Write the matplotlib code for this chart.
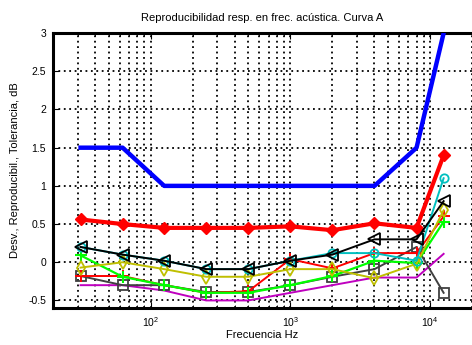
import matplotlib
matplotlib.use("Agg")
import matplotlib.pyplot as plt
from matplotlib.ticker import LogLocator, NullFormatter

plt.rcParams["font.family"] = ["Liberation Sans", "DejaVu Sans"]

freq = [31.5, 63, 125, 250, 500, 1000, 2000, 4000, 8000, 12500]

tolerancia = [1.5, 1.5, 1.0, 1.0, 1.0, 1.0, 1.0, 1.0, 1.5, 3.0]
reproducib = [0.56, 0.50, 0.45, 0.45, 0.45, 0.47, 0.42, 0.51, 0.45, 1.40]

desv_negro = [0.20, 0.10, 0.02, -0.09, -0.09, 0.02, 0.10, 0.30, 0.30, 0.80]
desv_cian = [0.20, 0.10, 0.02, -0.09, -0.09, 0.02, 0.12, 0.12, 0.02, 1.10]
desv_amarillo = [-0.07, 0.00, -0.09, -0.19, -0.19, -0.09, -0.09, -0.21, -0.02, 0.68]
desv_verde = [0.09, -0.19, -0.30, -0.40, -0.40, -0.30, -0.18, 0.02, -0.01, 0.53]
desv_rojo = [-0.18, -0.18, -0.30, -0.40, -0.38, 0.04, -0.08, 0.12, 0.12, 0.60]
desv_gris = [-0.18, -0.30, -0.30, -0.39, -0.39, -0.30, -0.19, -0.09, 0.20, -0.40]
desv_magenta = [-0.30, -0.30, -0.37, -0.50, -0.50, -0.40, -0.30, -0.20, -0.20, 0.11]

fig = plt.figure(figsize=(4.72, 3.45), dpi=100)
ax = fig.add_axes([0.1123, 0.107, 0.888, 0.797])

ax.plot(freq, tolerancia, color="#0000ff", lw=3.2, zorder=3)
ax.plot(freq, reproducib, color="#ff0000", lw=3, marker="D", ms=6.5, zorder=3)

ax.plot(freq, desv_magenta, color="#bf00bf", lw=1.4, zorder=4)
ax.plot(freq, desv_gris, color="#404040", lw=1.4, marker="s", ms=7,
        mfc="none", mew=1.3, zorder=4)
ax.plot(freq, desv_rojo, color="#ff0000", lw=1.4, marker="+", ms=8,
        mew=1.4, zorder=4)
ax.plot(freq, desv_verde, color="#00ff00", lw=1.6, marker="+", ms=8,
        mew=1.5, zorder=4)
ax.plot(freq, desv_amarillo, color="#bfbf00", lw=1.4, marker="d", ms=7,
        mfc="none", mew=1.3, zorder=4)
ax.plot(freq, desv_cian, color="#00bfbf", lw=1.4, marker="o", ms=6,
        mfc="none", mew=1.3, zorder=4)
ax.plot(freq, desv_negro, color="#000000", lw=1.4, marker="<", ms=8,
        mfc="none", mew=1.3, zorder=5)

ax.set_xscale("log")
ax.set_xlim(20, 20000)
ax.set_ylim(-0.6, 3)
ax.set_yticks([-0.5, 0, 0.5, 1, 1.5, 2, 2.5, 3])
ax.set_yticklabels(["-0.5", "0", "0.5", "1", "1.5", "2", "2.5", "3"])
ax.xaxis.set_major_locator(LogLocator(base=10))
ax.xaxis.set_minor_locator(LogLocator(base=10, subs=range(2, 10)))
ax.xaxis.set_minor_formatter(NullFormatter())

ax.grid(True, which="both", axis="x", color="black", ls=(0, (1, 2)), lw=1.3)
ax.grid(True, which="major", axis="y", color="black", ls=(0, (1, 2)), lw=1.3)
ax.set_axisbelow(True)

for side in ["left", "bottom", "top"]:
    ax.spines[side].set_linewidth(2.2)
ax.spines["right"].set_visible(False)

ax.tick_params(which="both", direction="in", labelsize=7.5, top=True)
ax.tick_params(which="major", length=4, pad=5)
ax.tick_params(which="minor", length=2.5)

ax.set_title("Reproducibilidad resp. en frec. acústica. Curva A",
             fontsize=8, pad=9)
ax.set_xlabel("Frecuencia Hz", fontsize=8, labelpad=1)
ax.set_ylabel("Desv., Reproducibil., Tolerancia, dB", fontsize=8, labelpad=6)

fig.savefig("out.png", dpi=100)
